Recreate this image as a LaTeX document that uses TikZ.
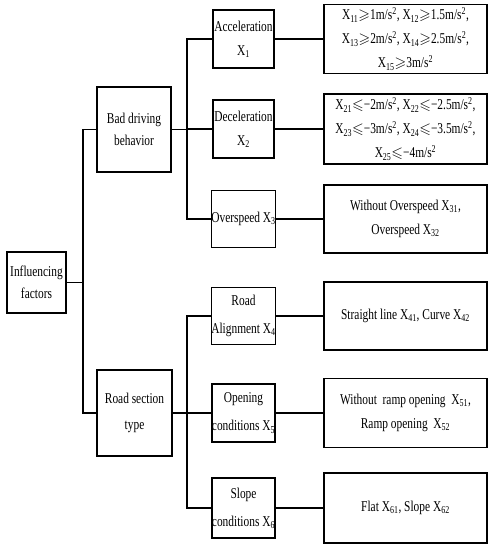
\documentclass[tikz,border=0pt]{standalone}
\usepackage{amssymb}
\usepackage{fontspec}
\setmainfont[FakeStretch=0.76]{Liberation Serif}
\newcommand\sbx[1]{\textsubscript{#1}}
\newcommand\sqr{\textsuperscript{2}}
\newcommand\gex{$\geqslant$}
\newcommand\lex{$\leqslant$}
\begin{document}
\begin{tikzpicture}[x=1pt,y=-1pt,line width=1.1pt,
  box/.style={draw,align=center,inner sep=0pt,font=\fontsize{15}{24}\selectfont},
  lone/.style={box,minimum width=61pt,minimum height=58pt},
  ltwo/.style={box,minimum width=163pt,minimum height=69pt}]
\useasboundingbox (0,0) rectangle (493,550);
\node[box,minimum width=59pt,minimum height=61pt,font=\fontsize{15}{22}\selectfont] (root) at (36.5,282.5) {Influencing\\factors};
\node[box,minimum width=74pt,minimum height=85pt,font=\fontsize{15}{22}\selectfont] (bad) at (134,129.5) {Bad driving\\behavior};
\node[box,minimum width=75pt,minimum height=86pt,font=\fontsize{15}{26}\selectfont] (road) at (134.5,413) {Road section\\type};
\node[lone] (acc) at (243.5,39) {Acceleration\\X\sbx{1}};
\node[lone] (dec) at (243.5,129) {Deceleration\\X\sbx{2}};
\node[lone,minimum height=57pt] (over) at (243.5,219) {Overspeed X\sbx{3}};
\node[lone,minimum height=57pt,font=\fontsize{15}{28}\selectfont] (align) at (243.5,316) {Road\\Alignment X\sbx{4}};
\node[lone,font=\fontsize{15}{28}\selectfont] (open) at (243.5,413) {Opening\\conditions X\sbx{5}};
\node[lone,minimum height=60pt,font=\fontsize{15}{28}\selectfont] (slope) at (243.5,508) {Slope\\conditions X\sbx{6}};
\node[ltwo] (accd) at (405.5,39) {X\sbx{11}\gex1m/s\sqr, X\sbx{12}\gex1.5m/s\sqr,\\X\sbx{13}\gex2m/s\sqr, X\sbx{14}\gex2.5m/s\sqr,\\X\sbx{15}\gex3m/s\sqr};
\node[ltwo,minimum height=70pt] (decd) at (405.5,129) {X\sbx{21}\lex−2m/s\sqr, X\sbx{22}\lex−2.5m/s\sqr,\\X\sbx{23}\lex−3m/s\sqr, X\sbx{24}\lex−3.5m/s\sqr,\\X\sbx{25}\lex−4m/s\sqr};
\node[ltwo,minimum height=68pt] (overd) at (405.5,219) {Without Overspeed X\sbx{31},\\Overspeed X\sbx{32}};
\node[ltwo,minimum height=68pt] (alignd) at (405.5,316) {Straight line X\sbx{41}, Curve X\sbx{42}};
\node[ltwo] (opend) at (405.5,413) {Without\ \ ramp opening\ \ X\sbx{51},\\Ramp opening\ \ X\sbx{52}};
\node[ltwo,minimum height=70pt] (sloped) at (405.5,508) {Flat X\sbx{61}, Slope X\sbx{62}};
\coordinate (tA) at (83,282.5);
\coordinate (bA) at (187,129.5);
\coordinate (bB) at (187,413);
\draw (bad.west) -| (tA) |- (road.west);
\draw (root.east) -- (tA);
\draw (acc.west) -| (bA) |- (over.west);
\draw (bad.east) -- (bA);
\draw (dec.west) -- (dec.west -| bA);
\draw (align.west) -| (bB) |- (slope.west);
\draw (road.east) -- (bB);
\draw (open.west) -- (bB);
\draw (acc.east) -- (accd.west);
\draw (dec.east) -- (decd.west);
\draw (over.east) -- (overd.west);
\draw (align.east) -- (alignd.west);
\draw (open.east) -- (opend.west);
\draw (slope.east) -- (sloped.west);
\end{tikzpicture}
\end{document}
